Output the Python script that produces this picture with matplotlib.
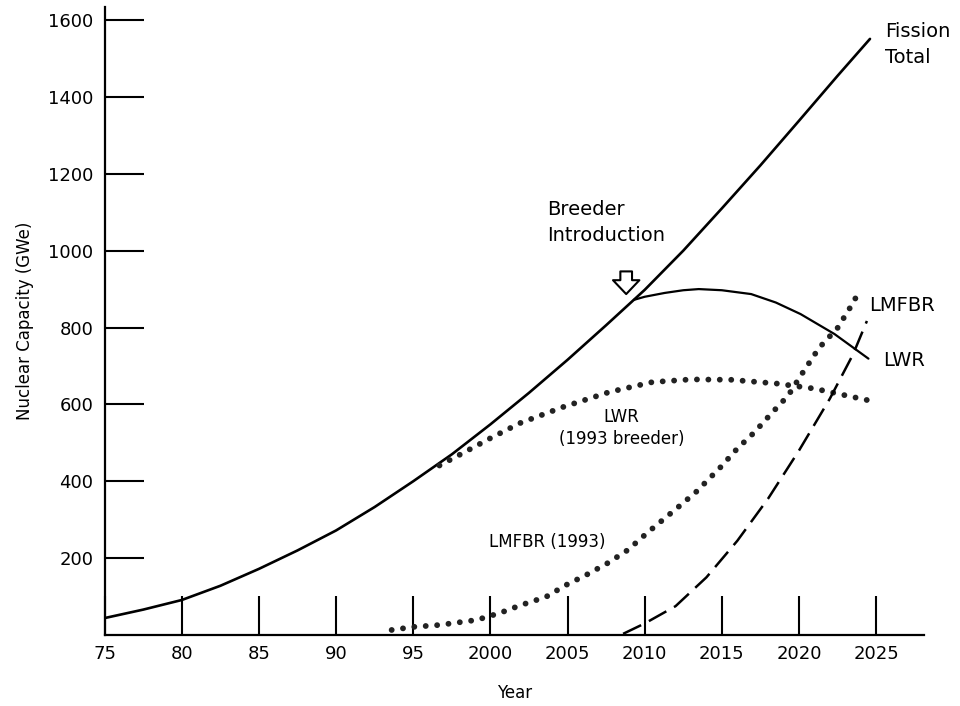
import matplotlib
matplotlib.use("Agg")
import matplotlib.pyplot as plt

# values (year, GWe)
fission_years = [1975, 1977.5, 1980, 1982.5, 1985, 1987.5, 1990, 1992.5, 1995, 1997.5,
                 2000, 2002.5, 2005, 2007.5, 2010, 2012.5, 2015, 2017.5, 2020, 2022.5, 2024.6]
fission_total = [44, 66, 91, 128, 172, 220, 272, 333, 400, 470,
                 548, 630, 716, 806, 898, 1000, 1110, 1222, 1338, 1455, 1551]

lwr_years = [2009.3, 2010, 2011.3, 2012.5, 2013.5, 2015, 2016.9, 2018.5, 2020.1, 2022.3, 2024.5]
lwr_vals = [872, 880, 890, 897, 900, 897, 887, 865, 835, 783, 719]

lwr93_years = [1996.7, 1998.2, 2000, 2001.9, 2004.7, 2007.7, 2010.5, 2013, 2015.6, 2018.6, 2021, 2024.9]
lwr93_vals = [441, 473, 512, 551, 593, 632, 658, 665, 664, 654, 641, 607]

lmfbr93_years = [1993.6, 1995, 1996.7, 1999.1, 2000.6, 2002, 2003.6, 2004.9, 2006.2, 2007.6,
                 2008.9, 2010.2, 2012, 2013.3, 2014.9, 2016, 2017.1, 2018.2, 2019.3, 2020.1,
                 2021.3, 2022.5, 2023.3, 2023.7]
lmfbr93_vals = [13, 21, 26, 39, 57, 78, 99, 130, 156, 187,
                221, 267, 327, 371, 436, 485, 527, 576, 623, 674,
                747, 799, 851, 879]

lmfbr_years = [2008.6, 2010, 2012, 2014, 2016, 2018, 2020, 2022, 2023.5, 2024.4]
lmfbr_vals = [3, 30, 75, 150, 245, 355, 480, 615, 730, 817]

x_ticks = [1975, 1980, 1985, 1990, 1995, 2000, 2005, 2010, 2015, 2020, 2025]
x_labels = ["75", "80", "85", "90", "95", "2000", "2005", "2010", "2015", "2020", "2025"]
y_ticks = [200, 400, 600, 800, 1000, 1200, 1400, 1600]

fig = plt.figure(figsize=(9.6, 7.06), dpi=100)
ax = fig.add_axes([0.109, 0.1006, 0.8535, 0.8895])

ax.plot(fission_years, fission_total, color="black", lw=1.9, solid_capstyle="round")
ax.plot(lwr_years, lwr_vals, color="black", lw=1.6, solid_capstyle="round")
ax.plot(lwr93_years, lwr93_vals, color="#222222", lw=4.2,
        linestyle=(0, (0.01, 1.95)), dash_capstyle="round")
ax.plot(lmfbr93_years, lmfbr93_vals, color="#222222", lw=4.2,
        linestyle=(0, (0.01, 1.95)), dash_capstyle="round")
ax.plot(lmfbr_years, lmfbr_vals, color="black", lw=1.8,
        linestyle=(0, (8, 3.5)))

# hollow arrow for breeder introduction
ax.annotate("", xy=(2008.8, 887), xytext=(2008.8, 946),
            arrowprops=dict(arrowstyle="simple,head_width=0.95,head_length=0.5,tail_width=0.42",
                            mutation_scale=20, fc="white", ec="black", lw=1.5,
                            shrinkA=0, shrinkB=0),
            annotation_clip=False)

ax.text(2025.6, 1537, "Fission\nTotal", fontsize=14, va="center", ha="left", linespacing=1.45)
ax.text(2003.7, 1073, "Breeder\nIntroduction", fontsize=14, va="center", ha="left", linespacing=1.45)
ax.text(2024.55, 856, "LMFBR", fontsize=14, va="center", ha="left")
ax.text(2025.45, 715, "LWR", fontsize=14, va="center", ha="left")
ax.text(2008.5, 538, "LWR\n(1993 breeder)", fontsize=12, va="center", ha="center", linespacing=1.3)
ax.text(2003.7, 242, "LMFBR (1993)", fontsize=12, va="center", ha="center")

ax.set_xlim(1975, 2028.1)
ax.set_ylim(0, 1634)
ax.set_xticks(x_ticks, labels=x_labels)
ax.set_yticks(y_ticks)

ax.spines["top"].set_visible(False)
ax.spines["right"].set_visible(False)
ax.spines["left"].set_linewidth(1.6)
ax.spines["bottom"].set_linewidth(1.6)
ax.tick_params(direction="in", length=28, width=1.5, labelsize=13)
ax.tick_params(axis="x", pad=7)
ax.tick_params(axis="y", pad=8)

ax.set_ylabel("Nuclear Capacity (GWe)", fontsize=12, labelpad=10)
ax.set_xlabel("Year", fontsize=12, labelpad=15)

fig.savefig("out.png", dpi=100)
